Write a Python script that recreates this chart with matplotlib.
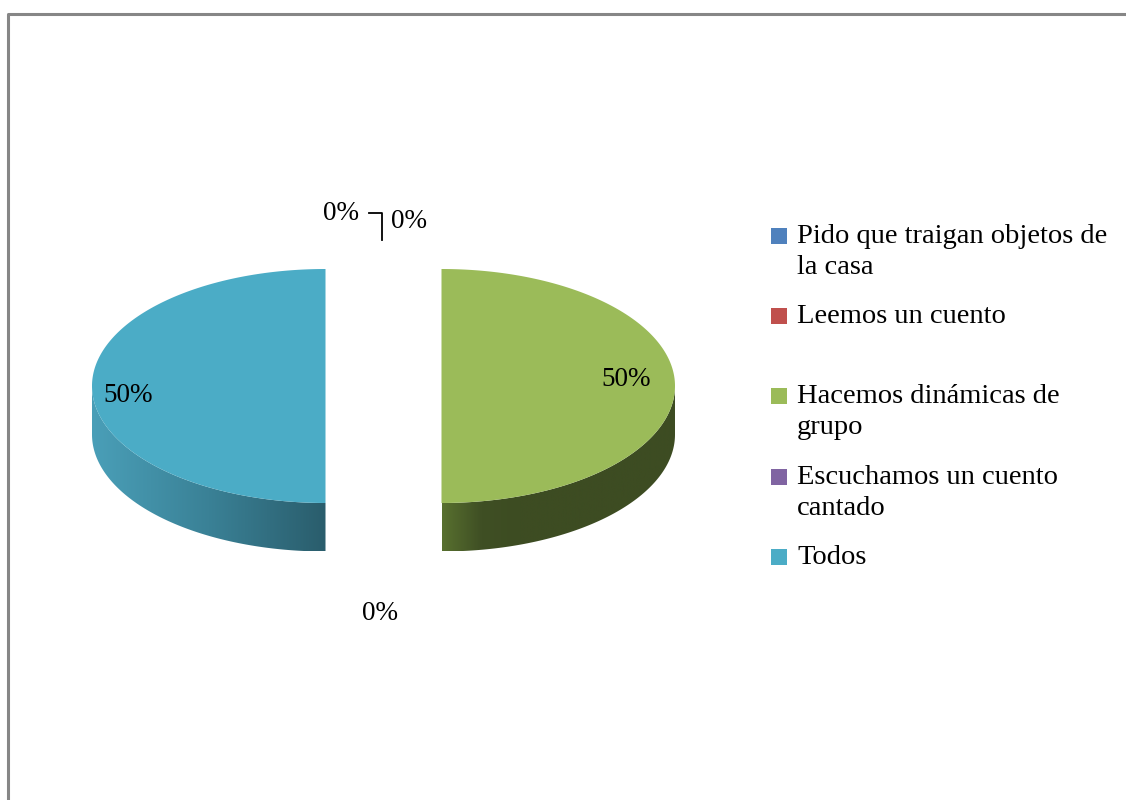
import numpy as np
import matplotlib.pyplot as plt
from matplotlib.patches import Polygon
from matplotlib.colors import LinearSegmentedColormap

plt.rcParams['font.family'] = ['Liberation Serif', 'DejaVu Serif']

categories = ['Pido que traigan objetos de\nla casa', 'Leemos un cuento',
              'Hacemos dinámicas de\ngrupo', 'Escuchamos un cuento\ncantado', 'Todos']
values = [0, 0, 50, 0, 50]
colors = ['#4F81BD', '#C0504D', '#9BBB59', '#8064A2', '#4BACC6']
side_shades = {2: ['#58702f', '#3f4f24', '#3d4c22'], 4: ['#4a9fb8', '#3a8196', '#2a5d6c']}

W, H = 1126, 800
fig = plt.figure(figsize=(W / 100, H / 100), dpi=100)
ax = fig.add_axes([0, 0, 1, 1])
ax.set_xlim(0, W)
ax.set_ylim(H, 0)
ax.axis('off')

# chart frame (only top and left visible)
ax.plot([8, 8, W + 5], [H + 5, 14, 14], color='#868686', lw=2.2, solid_capstyle='butt')

cx0, cy = 383.5, 386
a, b, depth = 233.5, 117, 48.5
explode = 58

total = float(sum(values))
theta = 0.0
for i, v in enumerate(values):
    span = 360.0 * v / total
    t0, t1 = theta, theta + span
    theta = t1
    if v == 0:
        continue
    mid = np.radians((t0 + t1) / 2)
    cx = cx0 + explode * np.sin(mid)
    cyy = cy - explode * np.cos(mid) * b / a
    # side wall (front part of arc)
    s0, s1 = max(t0, 90), min(t1, 270)
    if s1 > s0:
        tt = np.radians(np.linspace(s0, s1, 200))
        xs = cx + a * np.sin(tt)
        ys = cyy - b * np.cos(tt)
        pts = np.vstack([np.column_stack([xs, ys]),
                         np.column_stack([xs[::-1], ys[::-1] + depth])])
        poly = Polygon(pts, closed=True, facecolor='none', edgecolor='none')
        ax.add_patch(poly)
        cmap = LinearSegmentedColormap.from_list('s%d' % i, side_shades[i])
        grad = np.linspace(0, 1, 256).reshape(1, -1)
        if i == 2:
            grad = np.clip(grad * 3, 0, 1)
        im = ax.imshow(grad, cmap=cmap, aspect='auto',
                       extent=[xs.min(), xs.max(), ys.max() + depth, ys.min()],
                       zorder=2)
        im.set_clip_path(poly)
    # top face
    tt = np.radians(np.linspace(t0, t1, 300))
    pts = np.column_stack([cx + a * np.sin(tt), cyy - b * np.cos(tt)])
    pts = np.vstack([[cx, cyy], pts])
    ax.add_patch(Polygon(pts, closed=True, facecolor=colors[i], edgecolor='none', zorder=3))

# data labels
lbl = ['%d%%' % v for v in values]
fs = 19.5
ax.text(341, 213, lbl[0], fontsize=fs, ha='center', va='center')
ax.text(409, 221, lbl[1], fontsize=fs, ha='center', va='center')
ax.plot([369, 382, 382], [213, 213, 240], color='black', lw=1.3)
ax.text(626, 380, lbl[2], fontsize=fs, ha='center', va='center', zorder=5)
ax.text(380, 613, lbl[3], fontsize=fs, ha='center', va='center')
ax.text(128, 395, lbl[4], fontsize=fs, ha='center', va='center', zorder=5)

# legend
leg_y = [236, 316, 396, 477, 557]
for c, name, y in zip(colors, categories, leg_y):
    ax.add_patch(Polygon([[771, y - 8], [787, y - 8], [787, y + 8], [771, y + 8]],
                         closed=True, facecolor=c, edgecolor='none'))
    ax.text(797, y - 12, name, fontsize=20.5, ha='left', va='top', linespacing=1.33)

fig.savefig('out.png', dpi=100)
